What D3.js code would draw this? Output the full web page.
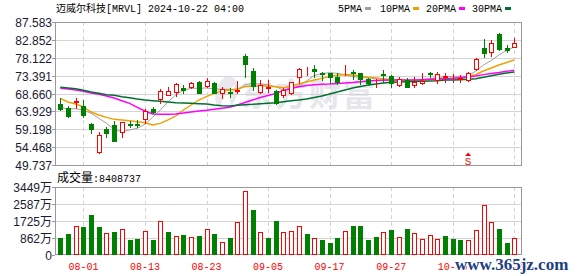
<!DOCTYPE html>
<html>
<head>
<meta charset="utf-8">
<title>MRVL K-line</title>
<script src="https://d3js.org/d3.v7.min.js"></script>
<style>
  body { margin: 0; background: #fff; }
  svg { display: block; }
</style>
</head>
<body>
<svg width="578" height="276"></svg>
<script type="text/javascript">

var dates = ['07-29','07-30','07-31','08-01','08-02','08-05','08-06','08-07','08-08','08-09',
  '08-12','08-13','08-14','08-15','08-16','08-19','08-20','08-21','08-22','08-23',
  '08-26','08-27','08-28','08-29','08-30','09-03','09-04','09-05','09-06','09-09',
  '09-10','09-11','09-12','09-13','09-16','09-17','09-18','09-19','09-20','09-23',
  '09-24','09-25','09-26','09-27','09-30','10-01','10-02','10-03','10-04','10-07',
  '10-08','10-09','10-10','10-11','10-14','10-15','10-16','10-17','10-18','10-21'];

var open = [65.88,64.74,66.49,65.35,60.59,53.26,59.18,60.24,58.55,60.59,
  60.50,61.99,64.48,67.13,68.34,69.14,70.04,70.46,71.78,70.72,
  71.36,68.71,69.14,69.32,78.58,74.69,69.14,70.19,69.40,68.26,
  68.71,73.11,74.27,75.06,74.00,74.00,73.11,74.53,74.43,74.00,
  72.42,71.40,73.74,73.29,70.91,72.23,70.91,71.52,74.00,72.23,
  73.03,72.63,72.60,72.23,75.06,80.62,79.72,84.41,80.62,81.04];
var high = [67.39,65.35,67.39,66.94,60.75,58.55,59.87,61.46,61.10,61.46,
  61.64,64.48,65.01,69.77,70.30,71.36,70.91,71.78,71.97,72.68,
  71.78,70.30,70.04,72.05,79.11,75.33,72.23,72.23,69.59,70.04,
  71.78,75.49,75.75,76.20,74.43,74.16,74.00,76.20,74.88,74.16,
  72.68,72.42,74.88,73.56,73.11,72.68,72.95,74.16,74.43,74.43,
  74.00,73.82,73.56,74.43,78.05,83.00,82.82,84.75,81.50,83.27];
var low = [64.29,62.44,64.74,62.36,58.13,52.99,57.07,56.09,57.23,59.87,
  59.87,60.93,63.42,66.07,68.18,68.00,68.71,70.04,68.71,70.30,
  68.71,67.39,67.81,68.71,72.95,69.59,68.71,69.14,65.88,67.81,
  68.53,71.36,73.56,73.11,72.23,71.36,71.17,73.56,72.42,71.17,
  70.91,70.46,71.78,70.30,70.64,70.30,70.30,71.17,73.11,71.52,
  71.78,71.78,71.78,72.05,74.88,78.40,78.58,80.20,79.72,81.04];
var close = [64.56,62.71,66.76,62.97,59.26,57.60,58.28,56.17,61.04,60.32,
  60.25,63.95,63.84,69.32,69.25,71.17,69.59,71.52,68.87,71.97,
  68.87,69.85,68.87,69.59,76.47,70.64,70.91,70.46,66.07,69.59,
  71.62,75.06,74.43,74.61,73.74,73.11,71.78,74.69,74.00,72.42,
  71.52,71.46,73.56,71.36,72.42,70.46,71.75,71.85,73.70,73.80,
  73.16,72.77,72.70,74.00,77.90,79.46,81.94,80.36,80.18,81.94];

// volume, in 万 shares
var volume = [879,1065,1471,1420,2029,1420,1099,1167,1302,761,
  812,1200,761,1708,1167,964,1014,913,964,1302,
  1065,642,862,1657,3229,2282,1150,862,1725,1150,
  1217,1454,1065,862,761,609,862,1217,1471,1471,
  761,913,1150,1268,913,1319,1099,812,998,812,
  964,812,761,744,1251,2519,1657,1319,609,841];

var ma5 = [65.01,64.56,64.64,64.29,63.42,62.10,60.77,59.18,58.55,59.00,
  59.45,60.51,62.36,64.29,66.49,68.26,69.59,70.04,70.04,70.12,
  69.85,69.77,69.77,69.77,70.91,71.36,71.17,70.91,70.46,69.59,
  69.98,70.64,71.97,73.42,73.95,74.16,74.01,73.56,73.16,72.89,
  72.76,72.63,72.50,72.42,72.10,71.97,71.97,72.23,72.50,72.89,
  73.11,73.16,73.21,73.29,74.61,76.20,77.39,78.85,80.04,80.97];
var ma10 = [67.39,66.41,65.88,65.09,63.76,62.97,62.36,61.83,61.65,61.46,
  61.20,60.93,60.32,60.77,61.65,62.70,64.29,65.62,66.94,67.81,
  68.71,69.32,69.59,69.77,70.46,70.64,70.64,70.64,70.46,70.19,
  70.64,71.17,71.70,72.23,72.68,73.11,73.48,73.69,73.56,73.29,
  72.95,72.76,72.50,72.31,72.23,72.15,72.15,72.23,72.42,72.50,
  72.58,72.63,72.68,73.03,73.69,74.61,75.41,76.20,76.86,77.53];
var ma20 = [70.04,69.85,69.59,69.24,68.79,68.45,68.00,67.47,66.75,66.07,
  65.01,64.03,63.23,63.15,63.15,63.23,63.50,63.76,64.03,64.21,
  64.48,64.74,65.01,65.62,66.28,66.94,67.60,68.13,68.66,69.45,
  69.98,70.46,70.78,70.99,71.09,71.17,71.31,71.44,71.57,71.78,
  71.97,72.10,72.18,72.23,72.23,72.23,72.23,72.31,72.42,72.50,
  72.58,72.68,72.84,73.03,73.29,73.64,73.95,74.22,74.54,74.80];
var ma30 = [70.30,70.12,69.93,69.51,69.06,68.71,68.34,68.18,67.81,67.55,
  67.20,66.94,66.75,66.60,66.41,66.22,66.15,66.07,65.96,65.88,
  65.62,65.43,65.35,65.54,65.70,65.80,65.96,66.07,66.22,66.49,
  66.75,66.94,67.20,67.60,68.00,68.53,69.06,69.59,70.12,70.51,
  70.91,71.17,71.44,71.62,71.70,71.78,71.84,71.89,71.97,72.05,
  72.23,72.23,72.31,72.42,72.58,72.95,73.37,73.74,74.09,74.35];

var priceTicks = ['87.583','82.852','78.122','73.391','68.660','63.929','59.198','54.468','49.737'];
var volTicks = [0, 862, 1725, 2587, 3449];
var dateTicks = ['08-01','08-13','08-23','09-05','09-17','09-27','10-09','10-21'];
var maNames = ['5PMA','10PMA','20PMA','30PMA'];
var maColors = ['#a0a0a0','#f0a000','#ff00ff','#00702e'];
var sMarkDate = '10-11';

var up = '#ff0000', down = '#008000';
var mono = '"Liberation Mono", "DejaVu Sans Mono", monospace';
var cjk = '"Noto Sans CJK SC", sans-serif';

var svg = d3.select('svg');

var x = d3.scalePoint().domain(dates).range([60.3, 514.3]);
var y = d3.scaleLinear().domain([+priceTicks[8], +priceTicks[0]]).range([165, 22]);
var yv = d3.scaleLinear().domain([0, volTicks[4]]).range([255, 187]);

function px(v) { return Math.round(v) + 0.5; }

// title + legend
var title = svg.append('text').attr('x', 56).attr('y', 12)
  .style('font-family', mono).style('font-size', '10px').attr('fill', '#000');
title.append('tspan').style('font-family', cjk).text('迈威尔科技');
title.append('tspan').text('[MRVL] 2024-10-22 04:00');

var legendX = [338, 380, 426, 472];
maNames.forEach(function(n, i) {
  svg.append('text').attr('x', legendX[i]).attr('y', 12)
    .style('font-family', mono).style('font-size', '10px').text(n);
  svg.append('rect').attr('x', legendX[i] + n.length * 6 + 3).attr('y', 7)
    .attr('width', 6).attr('height', 3).attr('fill', maColors[i]);
});

// watermark
var wm = svg.append('g');
wm.append('path')
  .attr('d', 'M226,76 C214,86 212,100 220,108 C222,98 228,90 236,84 C230,92 228,100 232,106 C238,96 240,86 234,78 Z')
  .attr('fill', '#e8e8ee');
wm.append('text').attr('x', 241).attr('y', 106)
  .style('font-family', cjk).style('font-size', '32px').style('font-weight', 'bold')
  .style('letter-spacing', '2px').attr('fill', '#e6e6ec').text('东方财富');

// grids
var grid = svg.append('g').attr('stroke', '#d4d4d4').attr('fill', 'none');
priceTicks.slice(1, 8).forEach(function(t) {
  grid.append('line').attr('x1', 55).attr('x2', 522)
    .attr('y1', px(y(+t))).attr('y2', px(y(+t)));
});
volTicks.slice(1, 4).forEach(function(t) {
  grid.append('line').attr('x1', 55).attr('x2', 522)
    .attr('y1', px(yv(t))).attr('y2', px(yv(t)));
});
dateTicks.forEach(function(d) {
  grid.append('line').attr('x1', px(x(d))).attr('x2', px(x(d)))
    .attr('y1', 22).attr('y2', 165).attr('stroke-dasharray', '4,3');
  grid.append('line').attr('x1', px(x(d))).attr('x2', px(x(d)))
    .attr('y1', 187).attr('y2', 255).attr('stroke-dasharray', '4,3');
});

// frames
svg.append('rect').attr('x', 55.5).attr('y', 22.5).attr('width', 466).attr('height', 143)
  .attr('fill', 'none').attr('stroke', '#999');
svg.append('rect').attr('x', 55.5).attr('y', 187.5).attr('width', 466).attr('height', 67)
  .attr('fill', 'none').attr('stroke', '#999');

// axis labels
var axisG = svg.append('g').style('font-family', '"Liberation Sans", Arial, sans-serif')
  .style('font-size', '12px').attr('fill', '#1a1a33');
priceTicks.forEach(function(t) {
  var yy = px(y(+t));
  axisG.append('text').attr('x', 52).attr('y', yy + 4).attr('text-anchor', 'end').text(t);
  axisG.append('line').attr('x1', 52).attr('x2', 55).attr('y1', yy).attr('y2', yy).attr('stroke', '#999');
});
volTicks.forEach(function(t) {
  var yy = px(yv(t));
  var tx = axisG.append('text').attr('x', 52).attr('y', yy + 4).attr('text-anchor', 'end');
  tx.append('tspan').text(t);
  if (t > 0) tx.append('tspan').style('font-family', cjk).text('万');
  axisG.append('line').attr('x1', 52).attr('x2', 55).attr('y1', yy).attr('y2', yy).attr('stroke', '#999');
});
dateTicks.forEach(function(d) {
  svg.append('text').attr('x', x(d)).attr('y', 270).attr('text-anchor', 'middle')
    .style('font-family', mono).style('font-size', '10px').attr('fill', up).text(d);
});

var vt = svg.append('text').attr('x', 57).attr('y', 182).style('font-size', '10px')
  .style('font-family', mono).attr('fill', '#000');
vt.append('tspan').style('font-family', cjk).style('font-size', '12px').text('成交量');
vt.append('tspan').text(':8408737');

// moving averages
[ma5, ma10, ma20, ma30].forEach(function(s, k) {
  var line = d3.line()
    .x(function(d, i) { return x(dates[i]); })
    .y(function(d) { return y(d); });
  svg.append('path').datum(s).attr('d', line).attr('fill', 'none')
    .attr('stroke', maColors[k]).attr('stroke-width', k === 0 ? 1 : 1.4);
});

// candles
var candles = svg.append('g').selectAll('g').data(dates).enter().append('g');
candles.each(function(d, i) {
  var g = d3.select(this);
  var col = close[i] >= open[i] ? up : down;
  var cx = px(x(d));
  g.append('line').attr('x1', cx).attr('x2', cx)
    .attr('y1', Math.round(y(high[i]))).attr('y2', Math.round(y(low[i])) + 1)
    .attr('stroke', col);
  var top = Math.round(y(Math.max(open[i], close[i])));
  var bot = Math.round(y(Math.min(open[i], close[i])));
  g.append('rect').attr('x', cx - 2).attr('y', top + 0.5)
    .attr('width', 4).attr('height', Math.max(bot - top, 0))
    .attr('fill', col === up ? '#fff' : down).attr('stroke', col);
});

// volume bars, coloured against the previous close
svg.append('g').selectAll('rect').data(volume).enter().append('rect')
  .each(function(v, i) {
    var prev = i > 0 ? close[i - 1] : open[i];
    var col = close[i] > prev ? up : down;
    var cx = px(x(dates[i]));
    var top = Math.round(yv(v));
    d3.select(this).attr('x', cx - 2).attr('y', top + 0.5)
      .attr('width', 4).attr('height', 255 - top - 1)
      .attr('fill', col === up ? '#fff' : down).attr('stroke', col);
  });

// S marker
var sx = x(sMarkDate);
svg.append('path').attr('d', 'M' + (sx - 3) + ',156 L' + sx + ',152.5 L' + (sx + 3) + ',156 Z').attr('fill', up);
svg.append('text').attr('x', sx).attr('y', 165).attr('text-anchor', 'middle')
  .style('font-family', mono).style('font-size', '11px').attr('fill', up).text('S');

// site stamp
svg.append('text').attr('x', 455).attr('y', 270)
  .style('font-family', '"Liberation Serif", serif').style('font-size', '17px').style('font-weight', 'bold')
  .attr('fill', '#1d3f82').attr('stroke', '#fff').attr('stroke-width', 2.5)
  .style('paint-order', 'stroke').text('www.365jz.com');

</script>
</body>
</html>
